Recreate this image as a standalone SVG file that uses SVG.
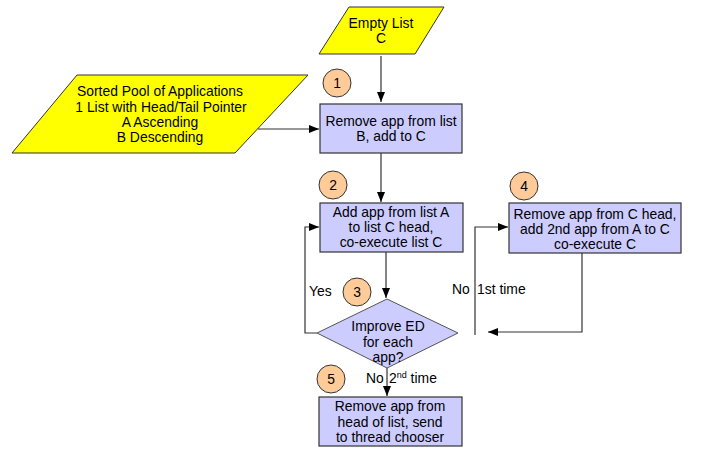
<svg xmlns="http://www.w3.org/2000/svg" width="701" height="449" viewBox="0 0 701 449">
<defs>
<marker id="ah" markerWidth="10" markerHeight="8" refX="10" refY="4" orient="auto" markerUnits="userSpaceOnUse">
<path d="M0,0 L10,4 L0,8 Z" fill="#000"/>
</marker>
<style>
text{font-family:"Liberation Sans",Arial,sans-serif;font-size:13.9px;fill:#000;text-anchor:middle}
.io{fill:#FFFF00;stroke:#333;stroke-width:1}
.box{fill:#CCCCFF;stroke:#333;stroke-width:1.2}
.dec{fill:#CCCCFF;stroke:#555;stroke-width:1}
.num{fill:#FFCC99;stroke:#333;stroke-width:1}
.c{fill:none;stroke:#333;stroke-width:1.2}
.lbl{text-anchor:start}
</style>
</defs>
<rect width="701" height="449" fill="#fff"/>
<g id="connectors">
<path class="c" d="M381,56 V102" marker-end="url(#ah)"/>
<path class="c" d="M258,129 H319" marker-end="url(#ah)"/>
<path class="c" d="M381,153 V202" marker-end="url(#ah)"/>
<path class="c" d="M386,252 V298" marker-end="url(#ah)"/>
<path class="c" d="M317,333 H305 V227 H319" marker-end="url(#ah)"/>
<path class="c" d="M475,335 V227 H508" marker-end="url(#ah)"/>
<path class="c" d="M582,253 V332 H488" marker-end="url(#ah)"/>
<path class="c" d="M387,368 V396" marker-end="url(#ah)"/>
<text class="lbl" x="309" y="296">Yes</text>
<text class="lbl" x="452" y="294">No <tspan x="477">1st time</tspan></text>
<text class="lbl" x="366" y="383">No <tspan x="389">2</tspan><tspan dy="-5" font-size="9">nd</tspan><tspan dy="5"> time</tspan></text>
</g>
<g id="empty-list">
<polygon class="io" points="349,7 444,7 415,54 319,54"/>
<text x="381" y="28">Empty List</text>
<text x="381" y="43">C</text>
</g>
<g id="sorted-pool">
<polygon class="io" points="77,75 308,75 235,153 12,153"/>
<text x="160" y="96">Sorted Pool of Applications</text>
<text x="161" y="112">1 List with Head/Tail Pointer</text>
<text x="160" y="127">A Ascending</text>
<text x="160" y="142">B Descending</text>
</g>
<g id="step1">
<circle class="num" cx="337" cy="83" r="14"/>
<text x="337" y="88">1</text>
</g>
<g id="box1">
<rect class="box" x="320" y="104" width="142" height="49"/>
<text x="391" y="126">Remove app from list</text>
<text x="391" y="141">B, add to C</text>
</g>
<g id="step2">
<circle class="num" cx="333" cy="185" r="14"/>
<text x="333" y="190">2</text>
</g>
<g id="box2">
<rect class="box" x="320" y="203" width="143" height="49"/>
<text x="391" y="217">Add app from list A</text>
<text x="391" y="232">to list C head,</text>
<text x="391" y="247">co-execute list C</text>
</g>
<g id="step4">
<circle class="num" cx="524" cy="186" r="14"/>
<text x="524" y="191">4</text>
</g>
<g id="box4">
<rect class="box" x="509" y="203" width="172" height="50"/>
<text x="595" y="219">Remove app from C head,</text>
<text x="595" y="234">add 2nd app from A to C</text>
<text x="595" y="249">co-execute C</text>
</g>
<g id="step3">
<circle class="num" cx="357" cy="292" r="14"/>
<text x="357" y="297">3</text>
</g>
<g id="decision">
<polygon class="dec" points="387,299 458,333 387,368 317,333"/>
<text x="388" y="331">Improve ED</text>
<text x="388" y="347">for each</text>
<text x="388" y="362">app?</text>
</g>
<g id="step5">
<circle class="num" cx="331" cy="379" r="14"/>
<text x="331" y="384">5</text>
</g>
<g id="box5">
<rect class="box" x="319" y="397" width="143" height="49"/>
<text x="390" y="411">Remove app from</text>
<text x="390" y="427">head of list, send</text>
<text x="390" y="442">to thread chooser</text>
</g>
</svg>
